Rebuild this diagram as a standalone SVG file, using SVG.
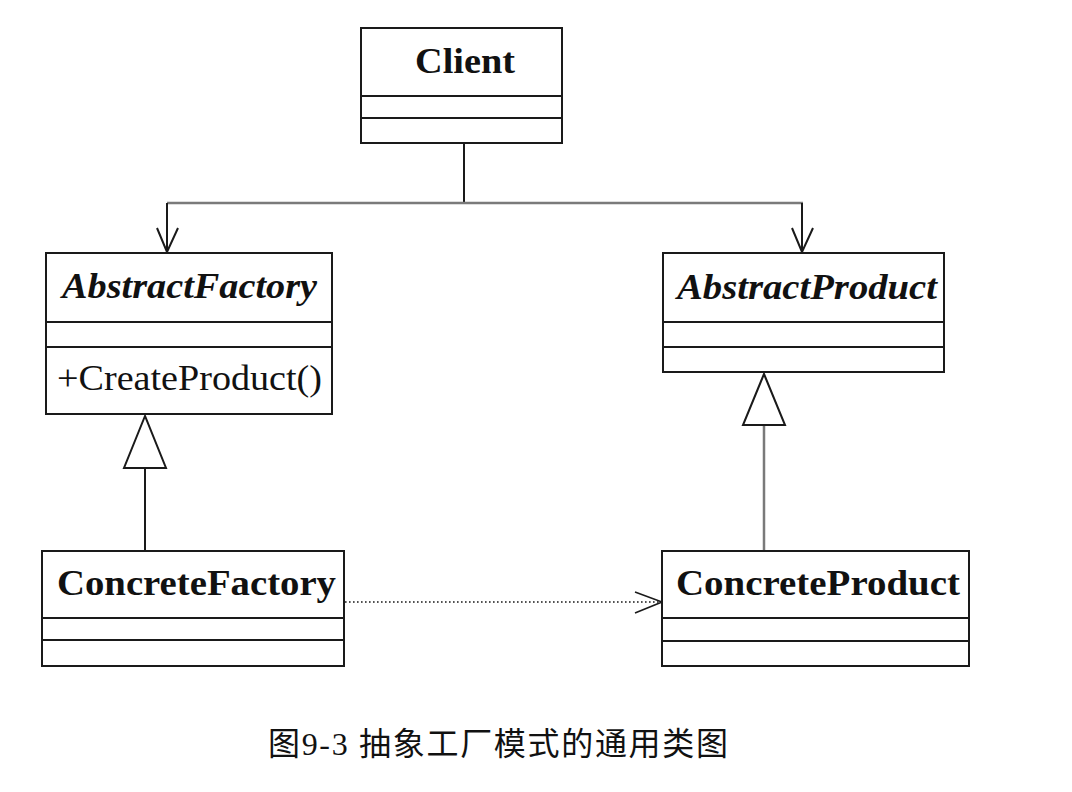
<svg xmlns="http://www.w3.org/2000/svg" width="1072" height="792" viewBox="0 0 1072 792">
<style>
.box{fill:#fff;stroke:#1a1a1a;stroke-width:2}
.div{stroke:#1a1a1a;stroke-width:2}
.ln{fill:none;stroke:#1a1a1a;stroke-width:2}
.gr{fill:none;stroke:#7a7a7a;stroke-width:2.5}
.tri{fill:#fff;stroke:#1a1a1a;stroke-width:2}
.t{font-family:"Liberation Serif","Times New Roman","DejaVu Serif",serif;font-size:35px;fill:#111}
.b{font-weight:bold}
.i{font-style:italic}
.cap{font-family:"Liberation Serif","Noto Sans CJK SC",serif;font-size:32px;fill:#111}
</style>
<rect width="1072" height="792" fill="#fff"/>
<g id="connectors">
  <line class="ln" x1="464" y1="143" x2="464" y2="203"/>
  <line class="gr" x1="167" y1="203" x2="803" y2="203"/>
  <line class="ln" x1="167" y1="203" x2="167" y2="252"/>
  <polyline class="ln" points="157,228 167,252 178,228"/>
  <line class="ln" x1="802" y1="203" x2="802" y2="252"/>
  <polyline class="ln" points="792,228 802,252 813,228"/>
  <line class="ln" x1="145" y1="468" x2="145" y2="551"/>
  <polygon class="tri" points="145,416 124,468 166,468"/>
  <line class="gr" x1="764" y1="425" x2="764" y2="551"/>
  <polygon class="tri" points="764,374 743,425 785,425"/>
  <line x1="345" y1="602" x2="660" y2="602" stroke="#1a1a1a" stroke-width="1.6" stroke-dasharray="1.6,2.4"/>
  <polyline fill="none" stroke="#1a1a1a" stroke-width="1.6" points="635,592 662,602 635,613"/>
</g>
<g id="client">
  <rect class="box" x="361" y="28" width="201" height="115"/>
  <line class="div" x1="361" y1="96" x2="562" y2="96"/>
  <line class="div" x1="361" y1="118" x2="562" y2="118"/>
  <text class="t b" x="415" y="73" textLength="100" lengthAdjust="spacingAndGlyphs">Client</text>
</g>
<g id="abstractFactory">
  <rect class="box" x="46" y="253" width="286" height="161"/>
  <line class="div" x1="46" y1="322" x2="332" y2="322"/>
  <line class="div" x1="46" y1="347" x2="332" y2="347"/>
  <text class="t b i" x="62" y="298" textLength="255" lengthAdjust="spacingAndGlyphs">AbstractFactory</text>
  <text class="t" x="57" y="390" textLength="265" lengthAdjust="spacingAndGlyphs">+CreateProduct()</text>
</g>
<g id="abstractProduct">
  <rect class="box" x="663" y="253" width="281" height="119"/>
  <line class="div" x1="663" y1="322" x2="944" y2="322"/>
  <line class="div" x1="663" y1="347" x2="944" y2="347"/>
  <text class="t b i" x="677" y="299" textLength="260" lengthAdjust="spacingAndGlyphs">AbstractProduct</text>
</g>
<g id="concreteFactory">
  <rect class="box" x="42" y="551" width="302" height="115"/>
  <line class="div" x1="42" y1="618" x2="344" y2="618"/>
  <line class="div" x1="42" y1="640" x2="344" y2="640"/>
  <text class="t b" x="57" y="595" textLength="279" lengthAdjust="spacingAndGlyphs">ConcreteFactory</text>
</g>
<g id="concreteProduct">
  <rect class="box" x="662" y="551" width="307" height="115"/>
  <line class="div" x1="662" y1="618" x2="969" y2="618"/>
  <line class="div" x1="662" y1="641" x2="969" y2="641"/>
  <text class="t b" x="676" y="595" textLength="284" lengthAdjust="spacingAndGlyphs">ConcreteProduct</text>
</g>
<g id="caption">
  <text class="cap" x="268" y="755" textLength="460">图9-3 抽象工厂模式的通用类图</text>
</g>
</svg>
